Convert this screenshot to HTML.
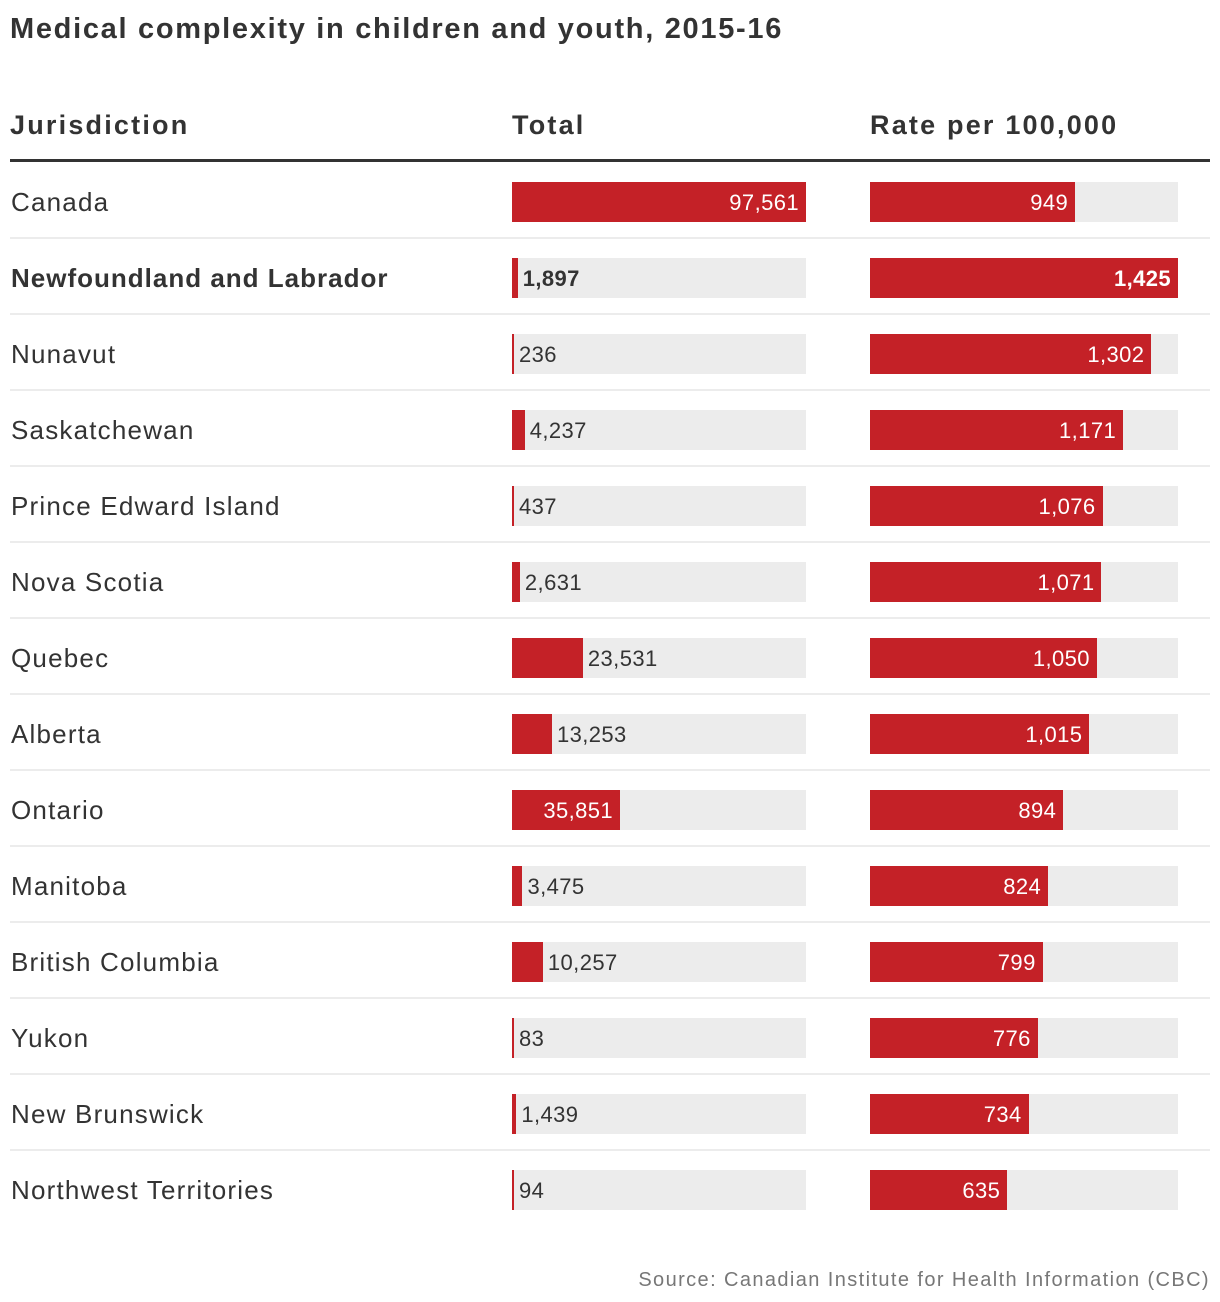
<!DOCTYPE html>
<html><head><meta charset="utf-8"><style>
body{margin:0;width:1220px;height:1302px;background:#fff;font-family:"Liberation Sans",sans-serif;color:#333;position:relative;overflow:hidden}
.abs{position:absolute}
h1{position:absolute;left:10px;top:13px;margin:0;font-size:29px;font-weight:bold;color:#333;letter-spacing:1.7px}
.hdr{position:absolute;top:110px;font-size:27px;font-weight:bold;letter-spacing:2.2px}
.row{position:absolute;left:10px;width:1200px;height:76px}
.name{position:absolute;left:1px;font-size:26px;top:24px;letter-spacing:1.2px}
.track{position:absolute;top:19px;height:40px;background:#ececec}
.bar{position:absolute;left:0;top:0;height:40px;background:#c42127}
.val{position:absolute;top:9px;font-size:22px;line-height:24px;white-space:nowrap;letter-spacing:0.4px}
.sep{position:absolute;left:0;width:1200px;height:2px;background:#ececec;bottom:0}
</style></head><body>
<h1>Medical complexity in children and youth, 2015-16</h1>
<div class="hdr" style="left:10px">Jurisdiction</div>
<div class="hdr" style="left:512px">Total</div>
<div class="hdr" style="left:870px">Rate per 100,000</div>
<div class="abs" style="left:10px;top:159px;width:1200px;height:3px;background:#333"></div>
<div id="rows"></div>
<div class="abs" style="right:10px;top:1269px;font-size:20px;color:#777;letter-spacing:1.4px">Source: Canadian Institute for Health Information (CBC)</div>
<script>
const names=["Canada","Newfoundland and Labrador","Nunavut","Saskatchewan","Prince Edward Island","Nova Scotia","Quebec","Alberta","Ontario","Manitoba","British Columbia","Yukon","New Brunswick","Northwest Territories"];
const totals=[97561,1897,236,4237,437,2631,23531,13253,35851,3475,10257,83,1439,94];
const rates=[949,1425,1302,1171,1076,1071,1050,1015,894,824,799,776,734,635];
const totalMax=97561, rateMax=1425;
const fmt=v=>v.toLocaleString('en-US');
const cont=document.getElementById('rows');
function makeCell(row,left,width,value,max,bold,kind){
  const t=document.createElement('div');t.className='track';
  t.style.left=left+'px';t.style.width=width+'px';
  
  
  const w=Math.max(2,value/max*width);
  const b=document.createElement('div');b.className='bar';b.style.width=w+'px';
  
  
  t.appendChild(b);
  const l=document.createElement('div');l.className='val';l.textContent=fmt(value);
  
  
  if(bold)l.style.fontWeight='bold';
  const tw=value.toLocaleString('en-US').length*12.5+14;
  if(w>tw){l.style.right=(width-w+7)+'px';l.style.color='#fff';}
  else{l.style.left=(w+5)+'px';}
  t.appendChild(l);row.appendChild(t);
}
names.forEach((n,i)=>{
  const r=document.createElement('div');r.className='row';r.style.top=(163+i*76)+'px';
  
  
  const bold=i===1;
  const nm=document.createElement('div');nm.className='name';nm.textContent=n;
  
  
  if(bold){nm.style.fontWeight='bold';nm.style.letterSpacing='1px';}
  r.appendChild(nm);
  makeCell(r,502,294,totals[i],totalMax,bold,'total');
  makeCell(r,860,308,rates[i],rateMax,bold,'rate');
  if(i<names.length-1){const s=document.createElement('div');s.className='sep';
  
  
  r.appendChild(s);}
  cont.appendChild(r);
});
</script>
</body></html>
